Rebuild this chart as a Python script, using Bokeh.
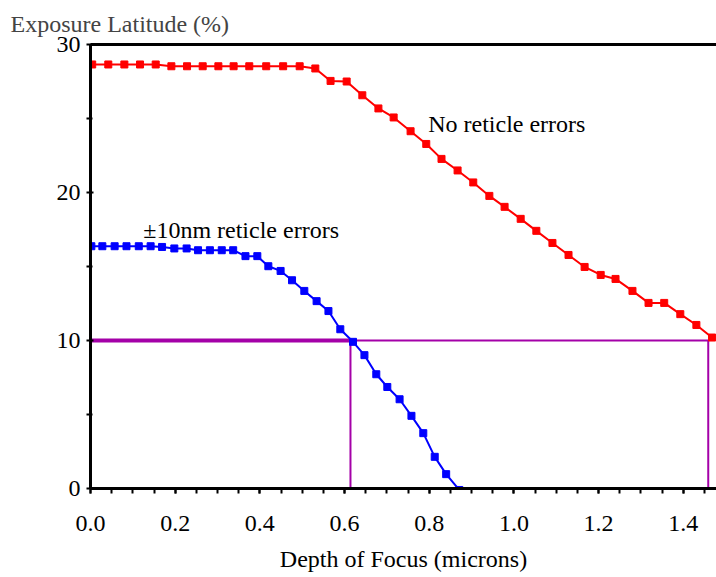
from bokeh.plotting import figure
from bokeh.models import Range1d, LinearAxis, FixedTicker, Label
from bokeh.embed import file_html
from bokeh.resources import INLINE

# ---- data ----
red_x = [0.004, 0.042, 0.080, 0.117, 0.154, 0.191, 0.228, 0.265, 0.302, 0.338,
         0.375, 0.415, 0.455, 0.494, 0.531, 0.567, 0.605, 0.642, 0.680, 0.716,
         0.756, 0.793, 0.829, 0.867, 0.904, 0.942, 0.978, 1.016, 1.053, 1.091,
         1.129, 1.167, 1.205, 1.240, 1.280, 1.318, 1.355, 1.393, 1.431, 1.468]
red_y = [28.65, 28.65, 28.65, 28.65, 28.65, 28.53, 28.53, 28.53, 28.53, 28.53,
         28.53, 28.53, 28.53, 28.53, 28.38, 27.54, 27.50, 26.57, 25.68, 25.07,
         24.14, 23.28, 22.27, 21.49, 20.68, 19.77, 19.03, 18.22, 17.41, 16.59,
         15.78, 14.97, 14.43, 14.16, 13.35, 12.54, 12.54, 11.78, 11.05, 10.20]

blue_x = [0.002, 0.028, 0.057, 0.085, 0.114, 0.142, 0.169, 0.198, 0.227, 0.254,
          0.282, 0.310, 0.337, 0.366, 0.394, 0.420, 0.449, 0.476, 0.505, 0.534,
          0.562, 0.590, 0.620, 0.647, 0.675, 0.701, 0.730, 0.758, 0.786, 0.813,
          0.840, 0.871]
blue_y = [16.37, 16.37, 16.37, 16.37, 16.37, 16.37, 16.32, 16.22, 16.22, 16.10,
          16.10, 16.10, 16.10, 15.70, 15.70, 15.02, 14.70, 14.07, 13.35, 12.66,
          11.99, 10.76, 9.91, 9.01, 7.72, 6.86, 6.03, 4.91, 3.74, 2.14,
          0.97, -0.10]

threshold = 10.0          # exposure latitude threshold (%)
dof_blue = 0.614          # DOF at threshold, with reticle errors
dof_red = 1.459           # DOF at threshold, no reticle errors

x_ticks = [0.0, 0.2, 0.4, 0.6, 0.8, 1.0, 1.2, 1.4]
x_tick_labels = ["0.0", "0.2", "0.4", "0.6", "0.8", "1.0", "1.2", "1.4"]
x_minor = [0.05 * i for i in range(30)]
y_ticks = [0, 10, 20, 30]
y_minor = [5, 15, 25]
y_title = "Exposure Latitude (%)"
x_title = "Depth of Focus (microns)"

FONT = "Liberation Serif"
FS = "24px"
MAGENTA = "#a400a8"

p = figure(width=716, height=577, output_backend="svg", toolbar_location=None,
           x_range=Range1d(0, 1.4785), y_range=Range1d(0, 30),
           min_border_left=90, min_border_right=0, min_border_top=44,
           min_border_bottom=89)
p.outline_line_color = None
p.grid.visible = False
p.background_fill_color = "white"
p.border_fill_color = "white"

p.title.text = y_title
p.title.text_font = FONT
p.title.text_font_size = FS
p.title.text_font_style = "normal"
p.title.align = "left"
p.title.offset = -80
p.title.standoff = 16

# axes
xa = p.xaxis[0]
xa.ticker = FixedTicker(ticks=x_ticks, minor_ticks=x_minor)
xa.major_label_overrides = {t: l for t, l in zip(x_ticks, x_tick_labels)}
xa.axis_label = x_title
ya = p.yaxis[0]
ya.ticker = FixedTicker(ticks=y_ticks, minor_ticks=y_minor)

for ax in (xa, ya):
    ax.axis_line_color = "black"
    ax.major_tick_line_color = "black"
    ax.minor_tick_line_color = "black"
    ax.major_label_text_font = FONT
    ax.major_label_text_font_size = FS
    ax.major_label_text_color = "black"
    ax.axis_label_text_font = FONT
    ax.axis_label_text_font_size = FS
    ax.axis_label_text_font_style = "normal"
    ax.axis_label_text_color = "black"

xa.axis_line_width = 3
xa.major_tick_line_width = 2
xa.minor_tick_line_width = 2
xa.major_tick_out = 5
xa.major_tick_in = 0
xa.minor_tick_out = 5
xa.minor_tick_in = 0
xa.major_label_standoff = 22
xa.axis_label_standoff = 12

ya.axis_line_width = 3
ya.major_tick_line_width = 2
ya.minor_tick_line_width = 2
ya.major_tick_out = 4
ya.major_tick_in = 3
ya.minor_tick_out = 4
ya.minor_tick_in = 2
ya.major_label_standoff = 6

top = LinearAxis(ticker=FixedTicker(ticks=[]), axis_line_width=3,
                 major_label_text_font_size="0px", major_label_standoff=0,
                 major_tick_out=0, major_tick_in=0, minor_tick_out=0,
                 minor_tick_in=0, major_tick_line_color=None,
                 minor_tick_line_color=None)
p.add_layout(top, "above")

# threshold lines
p.line([0, dof_blue], [threshold, threshold], line_color=MAGENTA, line_width=4)
p.line([dof_blue, dof_red], [threshold, threshold], line_color=MAGENTA, line_width=2)
p.line([dof_blue, dof_blue], [0, threshold], line_color=MAGENTA, line_width=2)
p.line([dof_red, dof_red], [0, threshold], line_color=MAGENTA, line_width=2)

# curves
p.line(red_x, red_y, line_color="#ff0000", line_width=2)
p.scatter(red_x, red_y, marker="square", size=7, fill_color="#ff0000",
          line_color="#ff0000")
p.line(blue_x, blue_y, line_color="#0000ff", line_width=2)
p.scatter(blue_x, blue_y, marker="square", size=7, fill_color="#0000ff",
          line_color="#0000ff")

p.add_layout(Label(x=0.7975, y=24.6, text="No reticle errors", text_font=FONT,
                   text_font_size=FS, text_color="black",
                   text_baseline="alphabetic"))
p.add_layout(Label(x=0.1245, y=17.5, text="\u00b110nm reticle errors", text_font=FONT,
                   text_font_size=FS, text_color="black",
                   text_baseline="alphabetic"))

open("out.html", "w").write(file_html(p, INLINE))
